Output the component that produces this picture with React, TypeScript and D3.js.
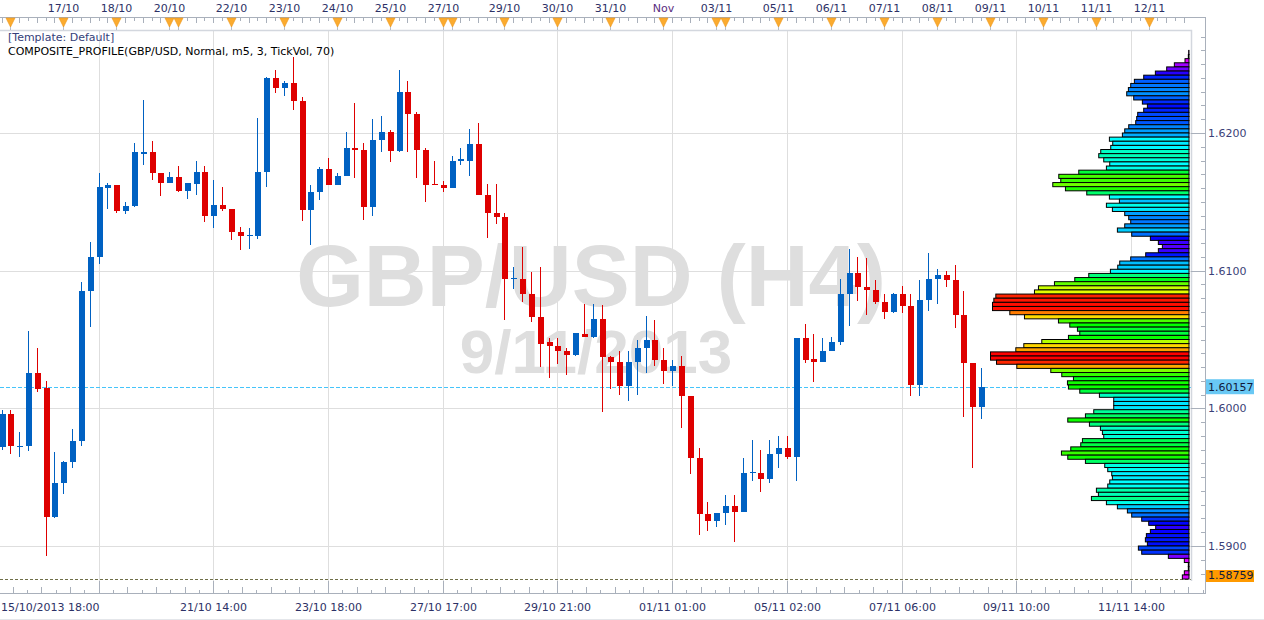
import { useEffect, useRef } from 'react'
import * as d3 from 'd3'

// --- DATA: H4 candles, left to right ---
const OPEN = [
  1.5972, 1.5996, 1.5972, 1.5973, 1.6026, 1.6015, 1.5921, 1.5946, 1.5961, 1.5976,
  1.6085, 1.611, 1.616, 1.6162, 1.6143, 1.6147, 1.6185, 1.6186, 1.6171, 1.6164,
  1.6168, 1.6158, 1.6163, 1.6172, 1.614, 1.6148, 1.6145, 1.6128, 1.6125, 1.6125,
  1.6172, 1.624, 1.6233, 1.6236, 1.6223, 1.6144, 1.6157, 1.6174, 1.6162, 1.6169,
  1.6189, 1.6188, 1.6146, 1.6195, 1.6201, 1.6187, 1.623, 1.6214, 1.6188, 1.6163,
  1.6162, 1.616, 1.618, 1.618, 1.6192, 1.6155, 1.6142, 1.6139, 1.6094, 1.6094,
  1.6083, 1.6066, 1.6048, 1.6045, 1.6042, 1.6039, 1.6054, 1.6052, 1.6065, 1.6037,
  1.6034, 1.6016, 1.6034, 1.6044, 1.605, 1.6035, 1.6027, 1.6031, 1.6009, 1.5964,
  1.5923, 1.5918, 1.5924, 1.5929, 1.5925, 1.5953, 1.5953, 1.5949, 1.5967, 1.5971,
  1.5965, 1.6051, 1.6036, 1.6034, 1.6042, 1.6048, 1.6083, 1.6098, 1.6088, 1.6086,
  1.6077, 1.607, 1.6083, 1.6074, 1.6017, 1.6079, 1.6094, 1.6097, 1.6093, 1.6068,
  1.6033, 1.6001,
]
const HIGH = [
  1.5999, 1.5999, 1.5983, 1.6056, 1.6044, 1.602, 1.5968, 1.5962, 1.5985, 1.6092,
  1.6121, 1.6171, 1.6164, 1.6162, 1.615, 1.6193, 1.6224, 1.6194, 1.6171, 1.6172,
  1.6176, 1.6164, 1.618, 1.6176, 1.6166, 1.6161, 1.6145, 1.6132, 1.6131, 1.6211,
  1.6241, 1.6246, 1.6238, 1.6255, 1.6226, 1.6162, 1.6175, 1.6182, 1.6171, 1.6201,
  1.6222, 1.6193, 1.621, 1.6212, 1.6202, 1.6246, 1.6238, 1.6215, 1.6189, 1.618,
  1.6165, 1.6183, 1.6189, 1.6203, 1.6207, 1.6163, 1.6163, 1.6142, 1.6103, 1.6117,
  1.6099, 1.6103, 1.6051, 1.6051, 1.6044, 1.6055, 1.6076, 1.6076, 1.6075, 1.6038,
  1.6042, 1.6042, 1.605, 1.6067, 1.6064, 1.6044, 1.6035, 1.6038, 1.6009, 1.5971,
  1.5932, 1.5924, 1.5937, 1.5937, 1.5964, 1.5977, 1.597, 1.5977, 1.598, 1.598,
  1.6051, 1.6061, 1.6054, 1.6051, 1.6052, 1.6094, 1.6116, 1.611, 1.6109, 1.6093,
  1.6083, 1.6084, 1.6089, 1.6083, 1.6093, 1.6113, 1.6101, 1.61, 1.6104, 1.6085,
  1.6033, 1.6029,
]
const LOW = [
  1.597, 1.5967, 1.5965, 1.5969, 1.6012, 1.5893, 1.592, 1.5938, 1.5957, 1.5973,
  1.6059, 1.6105, 1.6145, 1.6142, 1.6141, 1.6146, 1.6177, 1.6166, 1.6154, 1.6164,
  1.6157, 1.6152, 1.6155, 1.6135, 1.6131, 1.6143, 1.6122, 1.6115, 1.6116, 1.6123,
  1.6161, 1.6229, 1.6227, 1.6217, 1.6136, 1.6119, 1.6151, 1.6162, 1.6162, 1.6169,
  1.6167, 1.6137, 1.614, 1.6186, 1.6179, 1.6186, 1.6186, 1.6167, 1.615, 1.6162,
  1.6157, 1.616, 1.6177, 1.6169, 1.6155, 1.6124, 1.6134, 1.6064, 1.6087, 1.6077,
  1.6063, 1.603, 1.6022, 1.6032, 1.6024, 1.6038, 1.6052, 1.6051, 1.5997, 1.6014,
  1.601, 1.6005, 1.601, 1.6026, 1.6031, 1.6018, 1.6016, 1.5986, 1.5952, 1.5908,
  1.5911, 1.5914, 1.5915, 1.5903, 1.5925, 1.5947, 1.5939, 1.5946, 1.5957, 1.5963,
  1.5947, 1.6033, 1.6019, 1.6034, 1.6042, 1.6046, 1.606, 1.6078, 1.6068, 1.6076,
  1.6065, 1.6069, 1.6069, 1.6009, 1.6009, 1.6071, 1.6076, 1.6088, 1.6058, 1.5994,
  1.5957, 1.5992,
]
const CLOSE = [
  1.5996, 1.5973, 1.5973, 1.6026, 1.6014, 1.5921, 1.5946, 1.5961, 1.5976, 1.6085,
  1.611, 1.6161, 1.6162, 1.6143, 1.6147, 1.6186, 1.6186, 1.6171, 1.6164, 1.6168,
  1.6158, 1.6164, 1.6172, 1.614, 1.6148, 1.6145, 1.6128, 1.6125, 1.6126, 1.6172,
  1.624, 1.6233, 1.6236, 1.6223, 1.6144, 1.6157, 1.6174, 1.6162, 1.6169, 1.6189,
  1.6188, 1.6146, 1.6195, 1.6201, 1.6187, 1.623, 1.6214, 1.6188, 1.6162, 1.6162,
  1.616, 1.618, 1.6181, 1.6192, 1.6155, 1.6142, 1.6139, 1.6094, 1.6095, 1.6083,
  1.6066, 1.6047, 1.6045, 1.6042, 1.6039, 1.6055, 1.6052, 1.6065, 1.6037, 1.6034,
  1.6016, 1.6034, 1.6044, 1.605, 1.6035, 1.6027, 1.6031, 1.6009, 1.5964, 1.5923,
  1.5918, 1.5924, 1.5929, 1.5925, 1.5953, 1.5954, 1.5949, 1.5967, 1.5971, 1.5965,
  1.6051, 1.6035, 1.6034, 1.6042, 1.6048, 1.6083, 1.6098, 1.6088, 1.6086, 1.6077,
  1.607, 1.6083, 1.6074, 1.6017, 1.6079, 1.6094, 1.6097, 1.6093, 1.6068, 1.6033,
  1.6001, 1.60157,
]

// --- DATA: composite profile, tick volume per 3-pip row, top row first ---
const PROFILE_VOL = [
  1, 2, 12, 44, 67, 101, 136, 164, 175, 182,
  187, 166, 140, 125, 136, 154, 157, 160, 181, 193,
  200, 239, 229, 235, 265, 271, 256, 238, 248, 331,
  391, 385, 409, 371, 307, 239, 209, 248, 230, 193,
  181, 175, 193, 215, 172, 116, 92, 80, 92, 130,
  175, 208, 214, 236, 301, 343, 404, 452, 464, 580,
  586, 590, 590, 538, 494, 392, 358, 335, 328, 362,
  442, 496, 520, 596, 596, 578, 517, 415, 382, 347,
  365, 362, 328, 269, 226, 226, 226, 286, 311, 364,
  299, 266, 260, 256, 320, 325, 355, 383, 364, 311,
  253, 244, 232, 230, 238, 244, 278, 272, 293, 248,
  215, 185, 172, 142, 121, 100, 116, 128, 131, 125,
  152, 142, 62, 14, 2, 2, 14, 20,
]
const PROFILE_HIGH = 1.626
const PROFILE_LOW = 1.5876

const PRICE_TICKS = [1.59, 1.6, 1.61, 1.62]
const LAST_PRICE = 1.60157
const LOW_PRICE = 1.58759

const GRID_BARS = [11, 24, 37, 50, 63, 76, 89, 102, 115, 128]
const TIME_LABELS = [
  '15/10/2013 18:00', '21/10 14:00', '23/10 18:00', '27/10 17:00', '29/10 21:00',
  '01/11 01:00', '05/11 02:00', '07/11 06:00', '09/11 10:00', '11/11 14:00',
]
const TIME_LABEL_BARS = [0, 24, 37, 50, 63, 76, 89, 102, 115, 128]

const DAY_MARK_BARS = [1, 7, 13, 19, 20, 26, 32, 38, 44, 50, 51, 57, 63, 69, 75, 81, 82, 88, 94, 100, 106, 112, 118, 124, 130]
const DAY_LABELS = [
  '17/10', '18/10', '20/10', '22/10', '23/10', '24/10', '25/10', '27/10', '29/10', '30/10', '31/10',
  'Nov', '03/11', '05/11', '06/11', '07/11', '08/11', '09/11', '10/11', '11/11', '12/11',
]
const DAY_LABEL_BARS = [7, 13, 19, 26, 32, 38, 44, 50, 57, 63, 69, 75, 81, 88, 94, 100, 106, 112, 118, 124, 130]

const W = 1264
const H = 620
const FONT = '"DejaVu Sans", Verdana, sans-serif'

export default function App() {
  const svgRef = useRef<SVGSVGElement | null>(null)

  useEffect(() => {
    if (!svgRef.current) return

    const plot = { left: 0, right: 1191, top: 30, bottom: 581 }
    const axisX = 1205

    const svg = d3.select<SVGSVGElement, unknown>(svgRef.current)
    svg.selectAll('*').remove()
    svg.attr('width', W).attr('height', H)

    svg.append('rect').attr('width', W).attr('height', H).attr('fill', '#fff')

    // --- SCALES ---
    const x = d3.scaleLinear().domain([0, 128]).range([1.5, 1131])
    const y = d3.scaleLinear().domain([1.59, 1.62]).range([546, 133])
    const px = (i: number) => Math.round(x(i))
    const py = (p: number) => Math.round(y(p))

    svg
      .append('clipPath')
      .attr('id', 'plot-clip')
      .append('rect')
      .attr('x', plot.left)
      .attr('y', plot.top)
      .attr('width', plot.right - plot.left)
      .attr('height', plot.bottom - plot.top)

    const g = svg.append('g').attr('clip-path', 'url(#plot-clip)')

    // --- GRID ---
    g.selectAll('.hgrid')
      .data(PRICE_TICKS)
      .enter()
      .append('line')
      .attr('x1', plot.left)
      .attr('x2', plot.right)
      .attr('y1', (d) => py(d) + 0.5)
      .attr('y2', (d) => py(d) + 0.5)
      .attr('stroke', '#dedede')

    g.selectAll('.vgrid')
      .data(GRID_BARS)
      .enter()
      .append('line')
      .attr('x1', (d) => px(d) + 0.5)
      .attr('x2', (d) => px(d) + 0.5)
      .attr('y1', plot.top)
      .attr('y2', plot.bottom)
      .attr('stroke', '#dedede')

    // --- WATERMARK ---
    g.append('text')
      .attr('x', 591)
      .attr('y', 306)
      .attr('text-anchor', 'middle')
      .style('font-family', '"Liberation Sans", Arial, sans-serif')
      .style('font-weight', 'bold')
      .style('font-size', '87px')
      .attr('fill', '#dedede')
      .text('GBP/USD (H4)')

    g.append('text')
      .attr('x', 596)
      .attr('y', 373)
      .attr('text-anchor', 'middle')
      .style('font-family', '"Liberation Sans", Arial, sans-serif')
      .style('font-weight', 'bold')
      .style('font-size', '62px')
      .attr('fill', '#dedede')
      .text('9/11/2013')

    // --- PRICE LINES ---
    g.append('line')
      .attr('x1', plot.left)
      .attr('x2', plot.right)
      .attr('y1', py(LAST_PRICE) + 0.5)
      .attr('y2', py(LAST_PRICE) + 0.5)
      .attr('stroke', '#45c4fa')
      .attr('stroke-dasharray', '4,2')
      .attr('shape-rendering', 'crispEdges')

    g.append('line')
      .attr('x1', plot.left)
      .attr('x2', plot.right)
      .attr('y1', py(LOW_PRICE) + 0.5)
      .attr('y2', py(LOW_PRICE) + 0.5)
      .attr('stroke', '#6f6f48')
      .attr('stroke-dasharray', '3,2')
      .attr('shape-rendering', 'crispEdges')

    // --- PROFILE ---
    const rows = d3
      .scaleBand<number>()
      .domain(d3.range(PROFILE_VOL.length))
      .range([y(PROFILE_HIGH), y(PROFILE_LOW)])
    const maxVol = d3.max(PROFILE_VOL) ?? 1
    const len = d3.scaleLinear().domain([0, maxVol]).range([0, 198.5])
    const profileRight = 1189

    g.selectAll('.prof')
      .data(PROFILE_VOL)
      .enter()
      .append('rect')
      .attr('x', (d) => profileRight - len(d))
      .attr('y', (_, i) => rows(i) ?? 0)
      .attr('width', (d) => len(d))
      .attr('height', rows.bandwidth())
      .attr('fill', (d) => d3.hsl(300 * (1 - d / maxVol), 1, 0.5).formatHex())
      .attr('stroke', '#000')
      .attr('stroke-width', 1)

    // --- CANDLES ---
    const bars = d3.range(OPEN.length)
    const up = (i: number) => CLOSE[i] >= OPEN[i]
    const color = (i: number) => (up(i) ? '#0061c2' : '#de0000')

    const candle = g.selectAll('.candle').data(bars).enter().append('g').attr('shape-rendering', 'crispEdges')

    candle
      .append('rect')
      .attr('x', (i) => px(i))
      .attr('y', (i) => py(HIGH[i]))
      .attr('width', 1)
      .attr('height', (i) => Math.max(1, py(LOW[i]) - py(HIGH[i])))
      .attr('fill', color)

    candle
      .append('rect')
      .attr('x', (i) => px(i) - 2)
      .attr('y', (i) => py(Math.max(OPEN[i], CLOSE[i])))
      .attr('width', 6)
      .attr('height', (i) => Math.max(1, py(Math.min(OPEN[i], CLOSE[i])) - py(Math.max(OPEN[i], CLOSE[i]))))
      .attr('fill', color)

    // --- PLOT FRAME ---
    svg
      .append('path')
      .attr('d', `M${plot.left},${plot.top + 0.5}H${plot.right + 0.5}V${plot.bottom}`)
      .attr('fill', 'none')
      .attr('stroke', '#d3d7de')
      .attr('stroke-width', 1.5)

    // --- TOP TIME STRIP ---
    svg
      .append('line')
      .attr('x1', 0)
      .attr('x2', axisX + 0.5)
      .attr('y1', 17.5)
      .attr('y2', 17.5)
      .attr('stroke', '#a9b0bb')

    svg
      .selectAll('.ttick')
      .data(d3.range(0, 135))
      .enter()
      .append('line')
      .attr('x1', (d) => px(d) + 0.5)
      .attr('x2', (d) => px(d) + 0.5)
      .attr('y1', 18)
      .attr('y2', (d) => (d % 2 === 0 ? 23 : 21))
      .attr('stroke', '#a9b0bb')

    svg
      .selectAll('.dayline')
      .data(DAY_MARK_BARS)
      .enter()
      .append('line')
      .attr('x1', (d) => px(d) + 0.5)
      .attr('x2', (d) => px(d) + 0.5)
      .attr('y1', 18)
      .attr('y2', plot.top)
      .attr('stroke', '#b9bec7')

    svg
      .selectAll('.daymark')
      .data(DAY_MARK_BARS)
      .enter()
      .append('path')
      .attr('d', (d) => {
        const cx = px(d) + 0.5
        return `M${cx - 4.5},18L${cx + 4.5},18L${cx},27Z`
      })
      .attr('fill', '#fbab2f')
      .attr('stroke', '#ec9518')
      .attr('stroke-width', 0.6)

    svg
      .selectAll('.daylabel')
      .data(DAY_LABELS)
      .enter()
      .append('text')
      .attr('x', (_, i) => px(DAY_LABEL_BARS[i]) + 0.5)
      .attr('y', 12)
      .attr('text-anchor', 'middle')
      .style('font-family', FONT)
      .style('font-size', '11px')
      .attr('fill', (d) => (d === 'Nov' ? '#5b2d80' : '#2d3166'))
      .text((d) => d)

    // --- BOTTOM TIME STRIP ---
    svg
      .append('line')
      .attr('x1', 0)
      .attr('x2', axisX + 0.5)
      .attr('y1', 593.5)
      .attr('y2', 593.5)
      .attr('stroke', '#a9b0bb')

    const minorStep = (x(13) - x(0)) / 8
    svg
      .selectAll('.btick')
      .data(d3.range(-8, 88))
      .enter()
      .append('line')
      .attr('x1', (k) => Math.round(x(11) + k * minorStep) + 0.5)
      .attr('x2', (k) => Math.round(x(11) + k * minorStep) + 0.5)
      .attr('y1', 593)
      .attr('y2', (k) => (((k % 8) + 8) % 8 === 0 ? plot.bottom : ((k % 2) + 2) % 2 === 0 ? 587 : 590))
      .attr('stroke', '#a9b0bb')
      .style('display', (k) => (x(11) + k * minorStep > axisX || x(11) + k * minorStep < 0 ? 'none' : null))

    svg
      .selectAll('.timelabel')
      .data(TIME_LABELS)
      .enter()
      .append('text')
      .attr('x', (_, i) => (i === 0 ? 1 : px(TIME_LABEL_BARS[i]) + 0.5))
      .attr('y', 611)
      .attr('text-anchor', (_, i) => (i === 0 ? 'start' : 'middle'))
      .style('font-family', FONT)
      .style('font-size', '11px')
      .attr('fill', '#2d3166')
      .text((d) => d)

    // --- RIGHT PRICE AXIS ---
    svg
      .append('line')
      .attr('x1', axisX + 0.5)
      .attr('x2', axisX + 0.5)
      .attr('y1', 17)
      .attr('y2', 594)
      .attr('stroke', '#a9b0bb')

    const minorPrices = d3.range(1587, 1628).map((v) => v / 1000)
    svg
      .selectAll('.ptick')
      .data(minorPrices)
      .enter()
      .append('line')
      .attr('x1', axisX - 4)
      .attr('x2', axisX)
      .attr('y1', (d) => py(d) + 0.5)
      .attr('y2', (d) => py(d) + 0.5)
      .attr('stroke', '#a9b0bb')
      .style('display', (d) => (y(d) < plot.top || y(d) > plot.bottom ? 'none' : null))

    svg
      .selectAll('.pmajor')
      .data(PRICE_TICKS)
      .enter()
      .append('line')
      .attr('x1', plot.right)
      .attr('x2', axisX)
      .attr('y1', (d) => py(d) + 0.5)
      .attr('y2', (d) => py(d) + 0.5)
      .attr('stroke', '#a9b0bb')

    svg
      .selectAll('.plabel')
      .data(PRICE_TICKS)
      .enter()
      .append('text')
      .attr('x', axisX + 3)
      .attr('y', (d) => y(d) + 4)
      .style('font-family', FONT)
      .style('font-size', '11px')
      .attr('fill', '#3b3f78')
      .text((d) => d3.format('.4f')(d))

    const priceBox = (price: number, top: number, bottom: number, fill: string) => {
      svg
        .append('rect')
        .attr('x', axisX + 1)
        .attr('y', top)
        .attr('width', 48)
        .attr('height', bottom - top)
        .attr('fill', fill)
      svg
        .append('text')
        .attr('x', axisX + 3)
        .attr('y', bottom - 3.5)
        .style('font-family', FONT)
        .style('font-size', '11px')
        .attr('fill', '#111a3a')
        .text(d3.format('.5f')(price))
    }
    priceBox(LAST_PRICE, y(LAST_PRICE) - 7.5, y(LAST_PRICE) + 7.5, '#69c8f4')
    priceBox(LOW_PRICE, 570, plot.bottom + 1, '#ff9a00')

    // --- HEADER TEXTS ---
    svg
      .append('text')
      .attr('x', 8)
      .attr('y', 41)
      .style('font-family', FONT)
      .style('font-size', '11px')
      .attr('fill', '#34407a')
      .text('[Template: Default]')

    svg
      .append('text')
      .attr('x', 8)
      .attr('y', 55)
      .style('font-family', FONT)
      .style('font-size', '11px')
      .attr('fill', '#000')
      .text('COMPOSITE_PROFILE(GBP/USD, Normal, m5, 3, TickVol, 70)')

    // bottom window edge
    svg
      .append('line')
      .attr('x1', 0)
      .attr('x2', W)
      .attr('y1', 619.5)
      .attr('y2', 619.5)
      .attr('stroke', '#e4e6ea')
  }, [])

  return (
    <div style={{ position: 'absolute', left: 0, top: 0, width: W, height: H }}>
      <svg ref={svgRef} style={{ display: 'block' }} />
    </div>
  )
}
